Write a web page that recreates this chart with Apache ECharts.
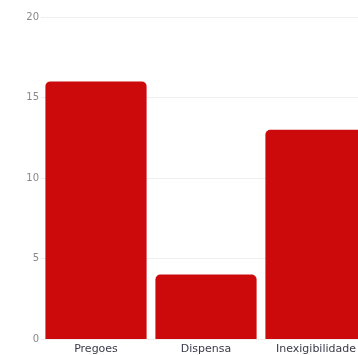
<!DOCTYPE html>
<html>
<head>
<meta charset="utf-8">
<script src="https://cdn.jsdelivr.net/npm/echarts@6/dist/echarts.min.js"></script>
<style>
  html, body { margin: 0; padding: 0; background: #fff; overflow: hidden; }
  #chart { width: 371px; height: 355px; }
</style>
</head>
<body>
<div id="chart"></div>
<script>
// Procurement counts by modality
const categories = ['Pregoes', 'Dispensa', 'Inexigibilidade'];
const counts = [16, 4, 13];
const yTicks = { min: 0, max: 20, interval: 5 };

const chart = echarts.init(document.getElementById('chart'), null, { renderer: 'canvas' });
chart.setOption({
  animation: false,
  grid: { left: 41, right: 0, top: 17, bottom: 15 },
  xAxis: {
    type: 'category',
    data: categories,
    axisLine: { show: false },
    axisTick: { show: false },
    axisLabel: { color: '#3a3a4a', fontSize: 11, fontFamily: 'DejaVu Sans', margin: 5, interval: 0 }
  },
  yAxis: {
    type: 'value',
    min: yTicks.min,
    max: yTicks.max,
    interval: yTicks.interval,
    axisLine: { show: false },
    axisTick: { show: false },
    axisLabel: { color: '#888', fontSize: 10, fontFamily: 'DejaVu Sans', margin: 2 },
    splitLine: { lineStyle: { color: '#eeeeee', width: 1 } }
  },
  series: [{
    type: 'bar',
    data: counts,
    barCategoryGap: '8%',
    itemStyle: { color: '#cc0a0c', borderRadius: [5, 5, 0, 0] }
  }]
});
</script>
</body>
</html>
